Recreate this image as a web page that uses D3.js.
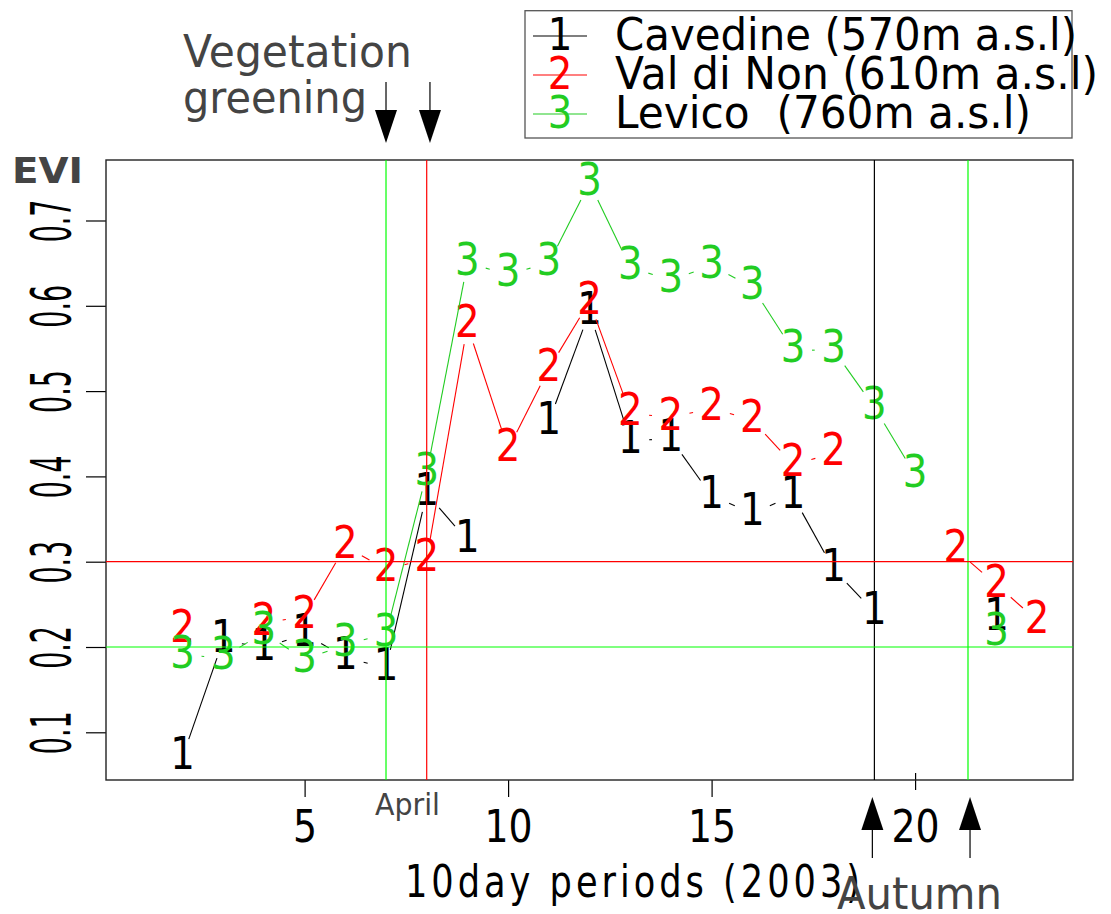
<!DOCTYPE html>
<html><head><meta charset="utf-8">
<script src="https://cdn.jsdelivr.net/npm/d3@7"></script>
<style>
body{margin:0;background:#fff}
svg{display:block}
text{font-family:"DejaVu Sans",sans-serif}
</style>
</head><body>
<svg id="chart" width="1111" height="914"></svg>
<script>
// ---------- data ----------
const periods = [1,2,3,4,5,6,7,8,9,10,11,12,13,14,15,16,17,18,19,20,21,22,23];
const cavedine = [null,0.071,0.208,0.199,0.215,0.188,0.175,0.380,0.325,null,0.464,0.593,0.442,0.444,0.377,0.357,0.377,0.291,0.241,null,null,0.234,null];
const valDiNon = [null,0.220,null,0.228,0.236,0.318,0.291,0.303,0.577,0.432,0.526,0.605,0.474,0.469,0.480,0.466,0.414,0.427,null,null,0.314,0.273,0.231];
const levico   = [null,0.190,0.188,0.217,0.185,0.203,0.215,0.404,0.650,0.637,0.650,0.744,0.645,0.630,0.647,0.622,0.548,0.548,0.481,0.402,null,0.216,null];
const seriesNames = ["Cavedine (570m a.s.l)", "Val di Non (610m a.s.l)", "Levico  (760m a.s.l)"];
const seriesSymbols = ["1","2","3"];
const seriesColors = ["#000000","#ff0000","#22cc22"];
const xTickValues = [5,10,15,20];
const yTickValues = [0.1,0.2,0.3,0.4,0.5,0.6,0.7];
const vRefValues = [7, 8, 19, 21.3];
const vRefColors = ["#00ff00","#ff0000","#000000","#00ff00"];
const hRefValues = [0.3, 0.2];
const hRefColors = ["#ff0000","#00ff00"];
const greeningArrowX = [7, 8.08];
const autumnArrowX = [18.95, 21.35];

// ---------- layout ----------
const svg = d3.select("#chart");
const P = {left:106, right:1073, top:160, bottom:780};
const allSeries = [cavedine, valDiNon, levico];
function padExtent(ext){ const r = ext[1]-ext[0]; return [ext[0]-0.04*r, ext[1]+0.04*r]; }
const x = d3.scaleLinear().domain(padExtent(d3.extent(periods))).range([P.left, P.right]);
const y = d3.scaleLinear().domain(padExtent(d3.extent(allSeries.flat().filter(v=>v!=null)))).range([P.bottom, P.top]);

// axes
const xAxis = svg.append("g").attr("transform",`translate(0,${P.bottom})`)
  .call(d3.axisBottom(x).tickValues(xTickValues).tickSize(17).tickPadding(13.5).tickFormat(d3.format("d")));
xAxis.select(".domain").remove();
xAxis.selectAll(".tick line").attr("stroke","#000").attr("stroke-width",1.2);
xAxis.selectAll(".tick text").attr("font-size",44).attr("fill","#000")
  .attr("font-family","DejaVu Sans").attr("transform","scale(0.86,1)");
xAxis.selectAll(".tick").filter(d=>d===20).select("line").attr("y1",-7).attr("y2",10);

const yAxis = svg.append("g").attr("transform",`translate(${P.left},0)`)
  .call(d3.axisLeft(y).tickValues(yTickValues).tickSize(20).tickFormat(d3.format(".1f")));
yAxis.select(".domain").remove();
yAxis.selectAll(".tick line").attr("stroke","#000").attr("stroke-width",1.2);
yAxis.selectAll(".tick text").attr("x",null).attr("dy",null).attr("y",null)
  .attr("font-size",56).attr("fill","#000").attr("font-family","DejaVu Sans")
  .attr("text-anchor","middle")
  .attr("transform","translate(-36,0) rotate(-90) scale(0.48,1)");

// plot box
svg.append("rect").attr("x",P.left).attr("y",P.top).attr("width",P.right-P.left).attr("height",P.bottom-P.top)
  .attr("fill","none").attr("stroke","#222").attr("stroke-width",1.4);

// series (type="b": points as characters, gapped lines)
const gap = 19;
allSeries.forEach((vals, si) => {
  const g = svg.append("g");
  for (let i=0;i<vals.length-1;i++){
    if (vals[i]==null || vals[i+1]==null) continue;
    const x1=x(periods[i]), y1=y(vals[i]), x2=x(periods[i+1]), y2=y(vals[i+1]);
    const dx=x2-x1, dy=y2-y1, d=Math.hypot(dx,dy);
    if (d <= 2*gap) continue;
    const ux=dx/d, uy=dy/d;
    g.append("line").attr("x1",x1+ux*gap).attr("y1",y1+uy*gap).attr("x2",x2-ux*gap).attr("y2",y2-uy*gap)
      .attr("stroke",seriesColors[si]).attr("stroke-width",1.1);
  }
  vals.forEach((v,i)=>{
    if (v==null) return;
    g.append("text").attr("transform",`translate(${x(periods[i])},${y(v)+12}) scale(0.88,1)`)
      .attr("text-anchor","middle").attr("font-size",44).attr("fill",seriesColors[si]).text(seriesSymbols[si]);
  });
});

// reference lines
vRefValues.forEach((v,i)=>{
  svg.append("line").attr("x1",x(v)).attr("x2",x(v)).attr("y1",P.top).attr("y2",P.bottom)
    .attr("stroke",vRefColors[i]).attr("stroke-width",1.2);
});
hRefValues.forEach((v,i)=>{
  svg.append("line").attr("x1",P.left).attr("x2",P.right).attr("y1",y(v)).attr("y2",y(v))
    .attr("stroke",hRefColors[i]).attr("stroke-width",1.2);
});

// EVI label
svg.append("text").attr("x",12).attr("y",183).attr("font-size",36).attr("font-weight","bold")
  .attr("fill","#444").attr("textLength",71).attr("lengthAdjust","spacingAndGlyphs").text("EVI");

// x axis title (narrow glyphs, wide spacing)
svg.append("text").attr("transform","translate(405,897) scale(0.8,1)").attr("font-size",44).attr("fill","#000")
  .attr("textLength",455/0.8).attr("lengthAdjust","spacing").text("10day periods (2003)");

// annotations
svg.append("text").attr("x",183).attr("y",66.7).attr("font-size",44).attr("fill","#444")
  .attr("textLength",229).attr("lengthAdjust","spacingAndGlyphs").text("Vegetation");
svg.append("text").attr("x",183).attr("y",113).attr("font-size",44).attr("fill","#444")
  .attr("textLength",184).attr("lengthAdjust","spacingAndGlyphs").text("greening");
svg.append("text").attr("x",375).attr("y",815).attr("font-size",30).attr("fill","#444")
  .attr("textLength",65).attr("lengthAdjust","spacingAndGlyphs").text("April");
svg.append("text").attr("x",837).attr("y",909).attr("font-size",44).attr("fill","#444")
  .attr("textLength",165).attr("lengthAdjust","spacingAndGlyphs").text("Autumn");

// arrows
greeningArrowX.forEach(v=>{
  const ax = x(v);
  svg.append("line").attr("x1",ax).attr("x2",ax).attr("y1",82).attr("y2",112).attr("stroke","#000").attr("stroke-width",1.2);
  svg.append("path").attr("d",`M${ax-11},110 L${ax+11},110 L${ax},143 Z`).attr("fill","#000");
});
autumnArrowX.forEach(v=>{
  const ax = x(v);
  svg.append("line").attr("x1",ax).attr("x2",ax).attr("y1",828).attr("y2",858).attr("stroke","#000").attr("stroke-width",1.2);
  svg.append("path").attr("d",`M${ax-11},830 L${ax+11},830 L${ax},797 Z`).attr("fill","#000");
});

// legend
const lg = svg.append("g");
lg.append("rect").attr("x",525).attr("y",10.7).attr("width",547).attr("height",127.3)
  .attr("fill","#fff").attr("stroke","#555").attr("stroke-width",1.3);
const legendWidths = [462, 483, 416];
seriesNames.forEach((name,i)=>{
  const base = 50 + i*39;
  lg.append("line").attr("x1",533).attr("x2",587).attr("y1",base-14).attr("y2",base-14)
    .attr("stroke",seriesColors[i]).attr("stroke-width",1.1);
  lg.append("text").attr("transform",`translate(560,${base}) scale(0.88,1)`).attr("text-anchor","middle")
    .attr("font-size",44).attr("fill",seriesColors[i]).text(seriesSymbols[i]);
  lg.append("text").attr("x",615).attr("y",base).attr("font-size",44).attr("fill","#000")
    .attr("xml:space","preserve").style("white-space","pre")
    .attr("textLength",legendWidths[i]).attr("lengthAdjust","spacingAndGlyphs").text(name);
});
</script>
</body></html>
